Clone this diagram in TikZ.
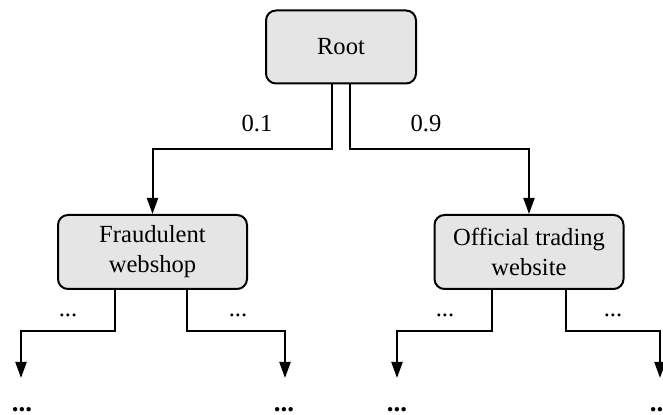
\documentclass[tikz,border=0pt]{standalone}
\usepackage{fontspec}
\setmainfont{Liberation Serif}
\usetikzlibrary{arrows.meta,positioning,calc}
\begin{document}
\begin{tikzpicture}[x=0.5pt,y=-0.5pt,
  font=\fontsize{12.3pt}{15pt}\selectfont,
  box/.style={draw=black,line width=1pt,fill=gray!20,rounded corners=5pt,
    align=center,inner sep=0pt},
  arr/.style={line width=1pt,-{Triangle[length=8pt,width=5.5pt]}},
  lbl/.style={inner sep=0pt,anchor=base},
  more/.style={inner sep=0pt,anchor=base,font=\fontsize{13.5pt}{15pt}\selectfont\bfseries}]
  \useasboundingbox (0,0) rectangle (663,415);

  % decision nodes
  \node[box,minimum width=75pt,minimum height=36.5pt] (root) at (341,47) {Root};
  \node[box,minimum width=94.5pt,minimum height=37pt] (fraud) at (152.5,252) {Fraudulent\\webshop};
  \node[box,minimum width=94.5pt,minimum height=37pt] (official) at (529,252) {Official trading\\website};

  % branches from the root
  \draw[arr] ([xshift=-4.5pt]root.south) -- ++(0,65) -| (fraud.north);
  \draw[arr] ([xshift=4.5pt]root.south) -- ++(0,65) -| (official.north);
  \node[inner sep=0pt] (p1) at (257,124) {0.1};
  \node[inner sep=0pt] (p2) at (426,124) {0.9};

  % open ends below the second level
  \coordinate (f1) at (21,378);
  \coordinate (f2) at (285,378);
  \coordinate (o1) at (397,378);
  \coordinate (o2) at (660,378);
  \draw[arr] ([xshift=-18.75pt]fraud.south) -- ++(0,41) -| (f1);
  \draw[arr] ([xshift=17.25pt]fraud.south) -- ++(0,41) -| (f2);
  \draw[arr] ([xshift=-18.5pt]official.south) -- ++(0,41) -| (o1);
  \draw[arr] ([xshift=18.5pt]official.south) -- ++(0,41) -| (o2);

  \node[lbl] (l1) at (68,317) {...};
  \node[lbl] (l2) at (238,317) {...};
  \node[lbl] (l3) at (445,317) {...};
  \node[lbl] (l4) at (613,317) {...};

  \node[more] (m1) at (22,412) {...};
  \node[more] (m2) at (284,412) {...};
  \node[more] (m3) at (397,412) {...};
  \node[more] (m4) at (660,412) {...};
\end{tikzpicture}
\end{document}
